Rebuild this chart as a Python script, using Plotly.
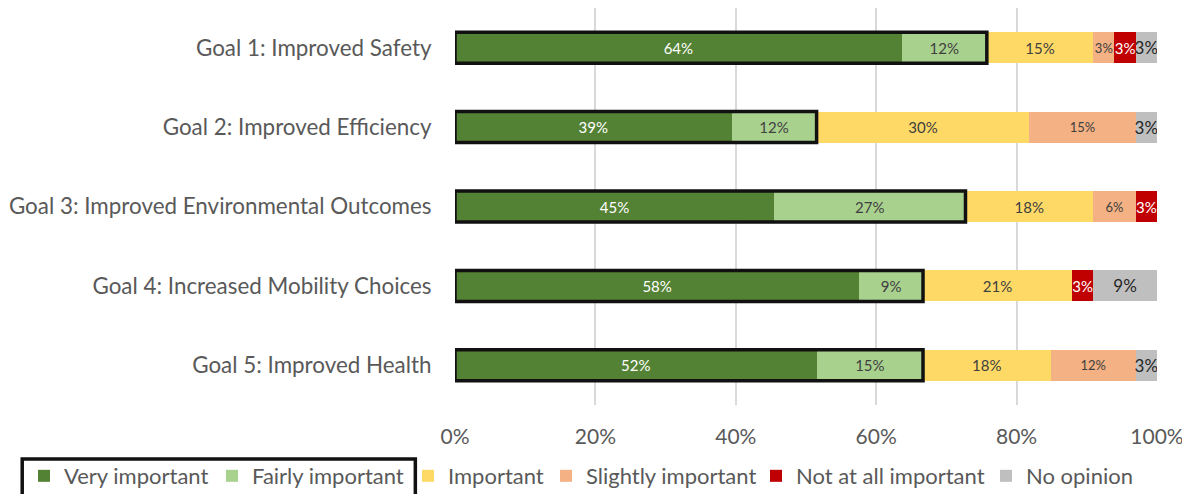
import plotly.graph_objects as go

goals = [
    "Goal 1: Improved Safety",
    "Goal 2: Improved Efficiency",
    "Goal 3: Improved Environmental Outcomes",
    "Goal 4: Increased Mobility Choices",
    "Goal 5: Improved Health",
]
very_important = [63.64, 39.39, 45.45, 57.58, 51.52]
fairly_important = [12.12, 12.12, 27.27, 9.09, 15.15]
important = [15.15, 30.30, 18.18, 21.21, 18.18]
slightly_important = [3.03, 15.15, 6.06, 0.0, 12.12]
not_at_all_important = [3.03, 0.0, 3.03, 3.03, 0.0]
no_opinion = [3.03, 3.03, 0.0, 9.09, 3.03]
x_ticks = [0, 20, 40, 60, 80, 100]
x_tick_labels = ["0%", "20%", "40%", "60%", "80%", "100%"]

series = [
    ("Very important", very_important, "#548235", "white", 15),
    ("Fairly important", fairly_important, "#A9D18E", "#404040", 15),
    ("Important", important, "#FFD966", "#404040", 15),
    ("Slightly important", slightly_important, "#F4B183", "#404040", 13),
    ("Not at all important", not_at_all_important, "#C00000", "white", 15),
    ("No opinion", no_opinion, "#BFBFBF", "#262626", 17),
]
# left edge (px) of each legend entry's swatch in the reference
legend_swatch_px = [43, 231, 427, 565, 775, 1005]

FONT = "Lato"
W, H = 1182, 486
fig = go.Figure()
legend_layouts = {}
for k, (name, vals, color, tcolor, tsize) in enumerate(series):
    lname = "legend" if k == 0 else f"legend{k + 1}"
    fig.add_trace(go.Bar(
        y=goals, x=vals, name=name, orientation="h",
        marker=dict(color=color, line=dict(width=0)),
        width=0.39,
        text=[f"{round(v):.0f}%" if v > 0 else "" for v in vals],
        textposition="inside", insidetextanchor="middle",
        textangle=0, constraintext="none",
        textfont=dict(color=tcolor, size=tsize, family=FONT),
        hoverinfo="skip", legend=lname,
    ))
    legend_layouts[lname] = dict(
        orientation="h", xref="container", yref="container",
        x=(legend_swatch_px[k] - 27) / W, y=0.037,
        xanchor="left", yanchor="middle",
        font=dict(size=22, color="#595959", family=FONT),
        itemwidth=30, bgcolor="rgba(0,0,0,0)",
    )

# Black outline around "Very important" + "Fairly important"
for i, (v, f) in enumerate(zip(very_important, fairly_important)):
    fig.add_shape(type="rect", xref="x", yref="y",
                  x0=0, x1=v + f, y0=i - 0.195, y1=i + 0.195,
                  line=dict(color="#111111", width=3.5), layer="above")

# Legend box around first two legend entries
fig.add_shape(type="rect", xref="paper", yref="paper",
              x0=-0.6165, x1=-0.0565, y0=-0.26, y1=-0.136,
              line=dict(color="#111111", width=3.5))

fig.update_layout(
    barmode="stack",
    width=W, height=H,
    margin=dict(l=447, r=33, t=0, b=89, autoexpand=False),
    plot_bgcolor="white", paper_bgcolor="white",
    font=dict(family=FONT, color="#595959", size=20),
    showlegend=True,
    xaxis=dict(range=[0, 100], tickvals=x_ticks, ticktext=x_tick_labels,
               showgrid=True, gridcolor="#D9D9D9", gridwidth=2,
               zeroline=False, ticks="outside", ticklen=13,
               tickcolor="rgba(0,0,0,0)",
               tickfont=dict(size=21, color="#595959", family=FONT)),
    yaxis=dict(autorange="reversed", showgrid=False, zeroline=False,
               ticks="outside", ticklen=18, tickcolor="rgba(0,0,0,0)",
               tickfont=dict(size=22.4, color="#595959", family=FONT)),
    **legend_layouts,
)

fig.write_html("out.html")
